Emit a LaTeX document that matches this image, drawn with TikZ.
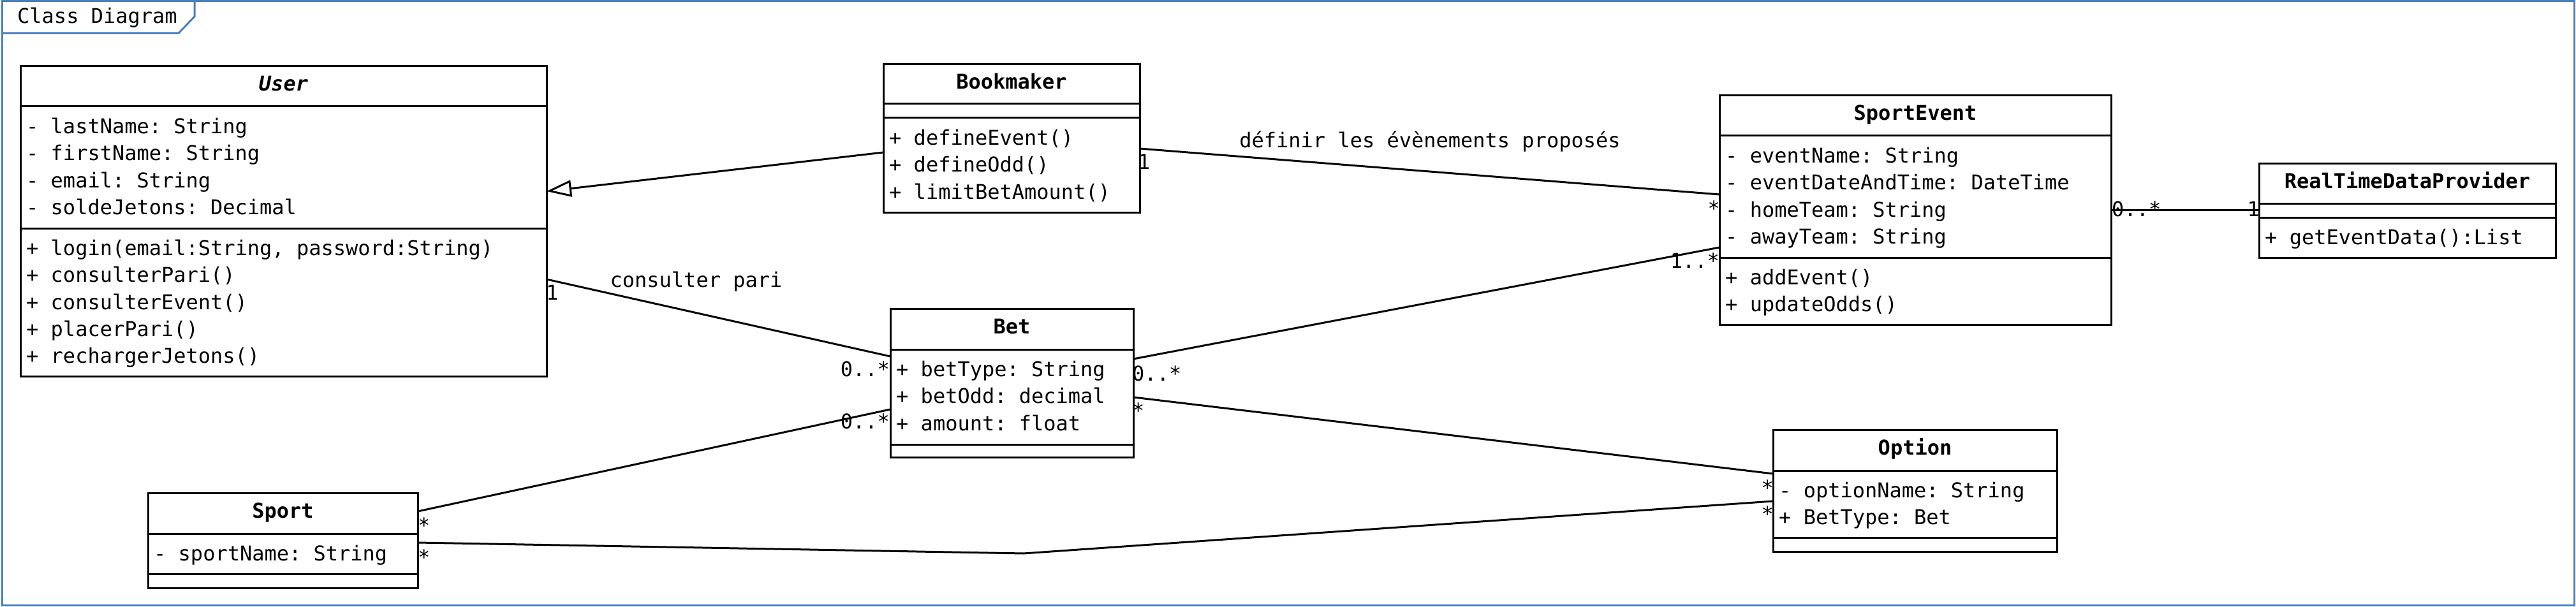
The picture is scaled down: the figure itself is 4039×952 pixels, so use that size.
\documentclass[tikz,border=0pt]{standalone}
\usepackage{fontspec}
\setmonofont{DejaVu Sans Mono}
\usetikzlibrary{arrows.meta, calc}
\definecolor{frameblue}{RGB}{74, 126, 187}

\begin{document}
\begin{tikzpicture}[x=1pt, y=-1pt,
    every node/.style={font=\ttfamily\fontsize{32}{38}\selectfont, inner sep=0pt, text=black},
    cls/.style={rectangle, draw=black, line width=3pt, fill=white, outer sep=0pt, anchor=north west},
    clstitle/.style={font=\ttfamily\bfseries\fontsize{32}{38}\selectfont, anchor=base},
    member/.style={anchor=base west},
    assoc/.style={draw=black, line width=3pt},
    inherit/.style={assoc, -{Triangle[open, length=39pt, width=26pt]}}
]
    \useasboundingbox (0,0) rectangle (4039,952);

    % frame
    \draw[frameblue, line width=3pt] (3,2) rectangle (4036,949);
    \draw[frameblue, line width=3pt] (3,52) -- (280,52) -- (305,26) -- (305,2);
    \node[anchor=base west] (frametitle) at (27,37) {Class Diagram};

    % classes
    \node[cls, minimum width=825pt, minimum height=486pt] (user) at (32,104) {};
    \node[cls, minimum width=402pt, minimum height=232pt] (bookmaker) at (1385,101) {};
    \node[cls, minimum width=614pt, minimum height=359pt] (sportevent) at (2696,150) {};
    \node[cls, minimum width=465pt, minimum height=148pt] (rtdp) at (3542,256) {};
    \node[cls, minimum width=381pt, minimum height=233pt] (bet) at (1396,484) {};
    \node[cls, minimum width=423pt, minimum height=149pt] (sport) at (232,773) {};
    \node[cls, minimum width=445pt, minimum height=191pt] (option) at (2780,674) {};

    \foreach \c/\h/\m in {user/63/254, bookmaker/62/84, sportevent/63/254, rtdp/63/85, bet/64/213, sport/64/127, option/64/169} {
        \draw[line width=3pt] ([yshift=-\h pt]\c.north west) -- ([yshift=-\h pt]\c.north east);
        \draw[line width=3pt] ([yshift=-\m pt]\c.north west) -- ([yshift=-\m pt]\c.north east);
    }

    \foreach \c/\t in {user/{\itshape User}, bookmaker/Bookmaker, sportevent/SportEvent, rtdp/RealTimeDataProvider, bet/Bet, sport/Sport, option/Option}
        \node[clstitle] (\c-t) at ($(\c.north)+(0,39)$) {\t};

    % members
    \foreach \t [count=\i from 0] in {- lastName: String, - firstName: String, - email: String, - soldeJetons: Decimal}
        \node[member] (user-a\i) at ($(user.north west)+(9,105.5+42.3*\i)$) {\t};
    \foreach \t [count=\i from 0] in {{+ login(email:String, password:String)}, + consulterPari(), + consulterEvent(), + placerPari(), + rechargerJetons()}
        \node[member] (user-m\i) at ($(user.north west)+(9,296.5+42.3*\i)$) {\t};
    \foreach \t [count=\i from 0] in {+ defineEvent(), + defineOdd(), + limitBetAmount()}
        \node[member] (bookmaker-m\i) at ($(bookmaker.north west)+(9,126.5+42.3*\i)$) {\t};
    \foreach \t [count=\i from 0] in {- eventName: String, - eventDateAndTime: DateTime, - homeTeam: String, - awayTeam: String}
        \node[member] (sportevent-a\i) at ($(sportevent.north west)+(9,105.5+42.3*\i)$) {\t};
    \foreach \t [count=\i from 0] in {+ addEvent(), + updateOdds()}
        \node[member] (sportevent-m\i) at ($(sportevent.north west)+(9,296.5+42.3*\i)$) {\t};
    \node[member] (rtdp-m0) at ($(rtdp.north west)+(9,127.5)$) {+ getEventData():List};
    \foreach \t [count=\i from 0] in {+ betType: String, + betOdd: decimal, + amount: float}
        \node[member] (bet-a\i) at ($(bet.north west)+(9,106.5+42.3*\i)$) {\t};
    \node[member] (sport-a0) at ($(sport.north west)+(9,106.5)$) {- sportName: String};
    \foreach \t [count=\i from 0] in {- optionName: String, + BetType: Bet}
        \node[member] (option-a\i) at ($(option.north west)+(9,106.5+42.3*\i)$) {\t};

    % connectors
    \coordinate (bend) at (1605,868);
    \draw[inherit] ([yshift=-138pt]bookmaker.north west) -- ([yshift=-196pt]user.north east);
    \draw[assoc] ([yshift=-132pt]bookmaker.north east) -- ([yshift=-155pt]sportevent.north west);
    \draw[assoc] ([yshift=-334pt]user.north east) -- ([yshift=-75pt]bet.north west);
    \draw[assoc] ([yshift=-79pt]bet.north east) -- ([yshift=-238pt]sportevent.north west);
    \draw[assoc] ([yshift=-29pt]sport.north east) -- ([yshift=-158pt]bet.north west);
    \draw[assoc] ([yshift=-139pt]bet.north east) -- ([yshift=-69pt]option.north west);
    \draw[assoc] ([yshift=-78pt]sport.north east) -- (bend) -- ([yshift=-112pt]option.north west);
    \draw[assoc] ([yshift=-179pt]sportevent.north east) -- ([yshift=-73pt]rtdp.north west);

    % labels
    \node[anchor=base] (definir) at (2242,232) {définir les évènements proposés};
    \node[anchor=base] (consulter) at (1091.5,450) {consulter pari};

    \node[anchor=base west] (m-bk) at (1784,265) {1};
    \node[anchor=base east] (m-se1) at (2697,338) {*};
    \node[anchor=base west] (m-us) at (856,470) {1};
    \node[anchor=base east] (m-bt1) at (1395,590) {0..*};
    \node[anchor=base west] (m-bt2) at (1775,597) {0..*};
    \node[anchor=base east] (m-se2) at (2696,420) {1..*};
    \node[anchor=base west] (m-bt3) at (1775,655) {*};
    \node[anchor=base east] (m-op1) at (2781,776) {*};
    \node[anchor=base east] (m-op2) at (2781,817) {*};
    \node[anchor=base west] (m-sp1) at (655,835) {*};
    \node[anchor=base east] (m-bt4) at (1395,672) {0..*};
    \node[anchor=base west] (m-sp2) at (655,885) {*};
    \node[anchor=base west] (m-se3) at (3311,339) {0..*};
    \node[anchor=base east] (m-rt) at (3543,339) {1};
\end{tikzpicture}
\end{document}
